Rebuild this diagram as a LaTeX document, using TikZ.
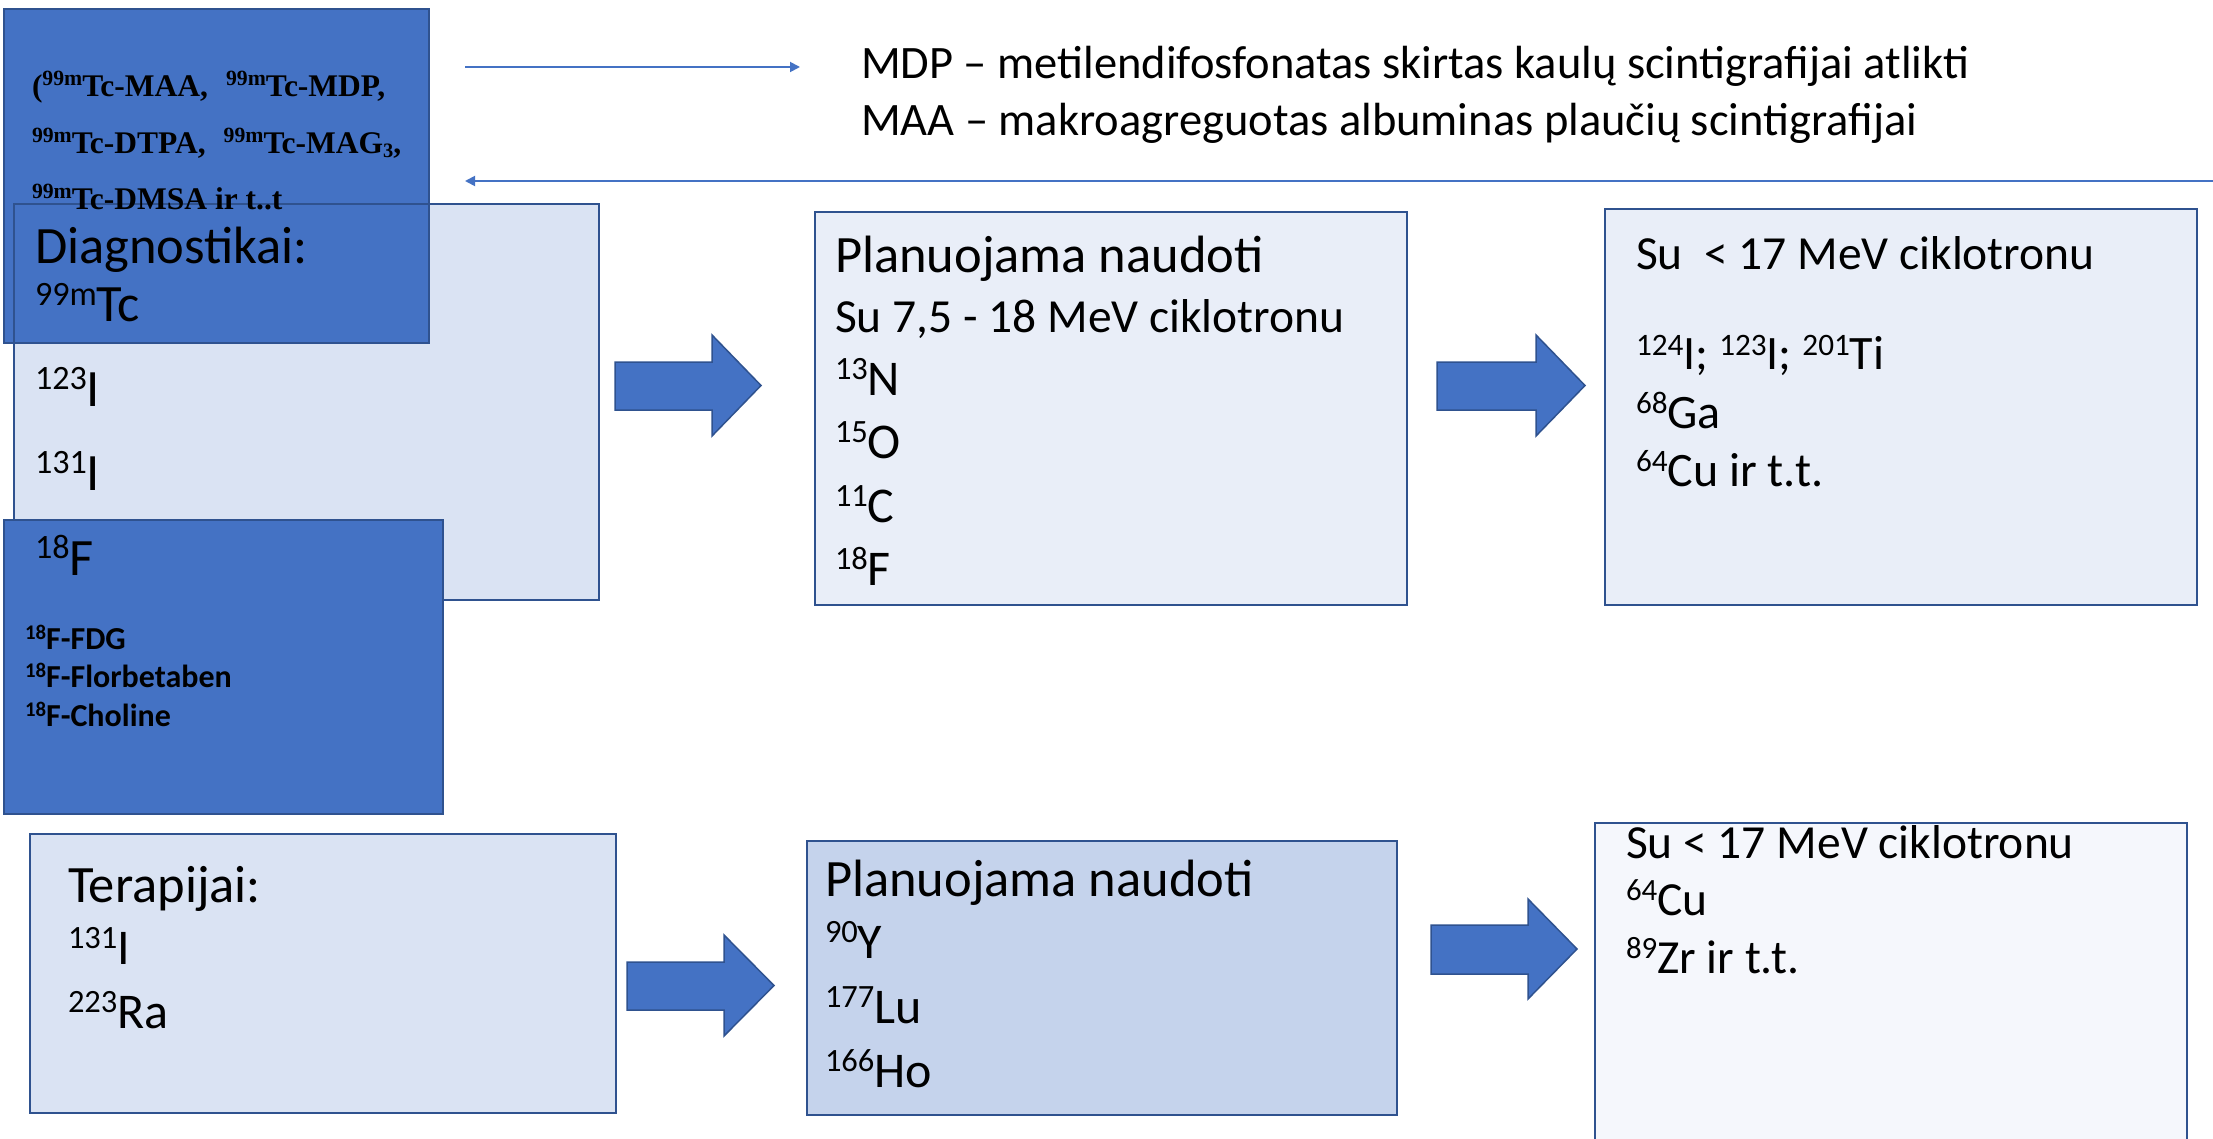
\documentclass[tikz,border=0pt]{standalone}
\usepackage{fontspec}
\setmainfont{Carlito}
\newfontfamily\tnr{Liberation Serif}
\usetikzlibrary{arrows.meta}
\definecolor{dk}{HTML}{4472C4}
\definecolor{bd}{HTML}{2F528F}
\definecolor{lbA}{HTML}{DAE3F3}
\definecolor{lbB}{HTML}{E9EEF8}
\definecolor{lbC}{HTML}{C5D3EC}
\definecolor{lbD}{HTML}{F5F7FC}
\newcommand\sps[1]{\raisebox{0.31em}{\scalebox{0.65}{#1}}}
\newcommand\spt[1]{\raisebox{0.36em}{\scalebox{0.69}{#1}}}
\newcommand\sbs[1]{\raisebox{-0.12em}{\scalebox{0.65}{#1}}}
\newcommand\fsz[1]{\fontsize{#1pt}{#1pt}\selectfont}
\begin{document}
\begin{tikzpicture}[x=1pt,y=-1pt,
 box/.style={rectangle, anchor=north west, inner sep=0pt, outer sep=0pt, line width=2pt},
 txt/.style={anchor=base west, inner sep=0pt, outer sep=0pt, text=black},
 blk/.style={fill=dk, draw=bd, line width=1.5pt},
 thinarrow/.style={draw=dk, line width=1.8pt, -{Triangle[length=10pt,width=10pt]}},
 big/.style={txt, font=\fsz{52.5}},
 mid/.style={txt, font=\fsz{50}},
 sml/.style={txt, font=\fsz{47.5}},
 tcs/.style={txt, font=\tnr\bfseries\fsz{31.5}},
 fls/.style={txt, font=\bfseries\fsz{32}},
]
\useasboundingbox (0,0) rectangle (2213,1139);
\fill[white] (0,0) rectangle (2213,1139);
\clip (0,0) rectangle (2213,1139);

% Diagnostikai cluster
\node[box, fill=lbA, minimum width=585pt, minimum height=396pt] (diag) at (14,204) {};
\node[box, fill=dk, draw=bd, minimum width=425pt, minimum height=334pt] (tcbox) at (4,9) {};
\draw[bd, line width=2pt] (diag.north west) rectangle (diag.south east);
\node[box, fill=dk, draw=bd, minimum width=439pt, minimum height=294pt] (fbox) at (4,520) {};

% other boxes
\node[box, fill=lbB, draw=bd, minimum width=592pt, minimum height=393pt] (plan1) at (815,212) {};
\node[box, fill=lbB, draw=bd, minimum width=592pt, minimum height=396pt] (cyc1) at (1605,209) {};
\node[box, fill=lbA, draw=bd, minimum width=586pt, minimum height=279pt] (ter) at (30,834) {};
\node[box, fill=lbC, draw=bd, minimum width=590pt, minimum height=274pt] (plan2) at (807,841) {};
\node[box, fill=lbD, draw=bd, minimum width=592pt, minimum height=360pt] (cyc2) at (1595,823) {};

% block arrows
\filldraw[blk] (615,362) -- (712,362) -- (712,335) -- (761,385.5) -- (712,436) -- (712,410) -- (615,410) -- cycle;
\filldraw[blk] (1437,362) -- (1536,362) -- (1536,335) -- (1585,385.5) -- (1536,436) -- (1536,410) -- (1437,410) -- cycle;
\filldraw[blk] (627,962) -- (724,962) -- (724,935) -- (774,985.5) -- (724,1036) -- (724,1010) -- (627,1010) -- cycle;
\filldraw[blk] (1431,925) -- (1528,925) -- (1528,899) -- (1577,949) -- (1528,999) -- (1528,974) -- (1431,974) -- cycle;

% thin arrows
\coordinate (a1s) at (465,67);
\coordinate (a1e) at (800,67);
\coordinate (a2s) at (2216,181);
\coordinate (a2e) at (465,181);
\draw[thinarrow] (a1s) -- (a1e);
\draw[thinarrow] (a2s) -- (a2e);

% legend text
\node[txt, font=\fsz{46.5}] (mdp) at (861,79) {MDP – metilendifosfonatas skirtas kaulų scintigrafijai atlikti};
\node[txt, font=\fsz{46.5}] (maa) at (861,136) {MAA – makroagreguotas albuminas plaučių scintigrafijai};

% Tc box text
\node[tcs] (tc1) at (32,97) {(\spt{99m}Tc-MAA,\hspace{18pt}\spt{99m}Tc-MDP,};
\node[tcs] (tc2) at (32,154) {\spt{99m}Tc-DTPA,\hspace{18pt}\spt{99m}Tc-MAG\sbs{3},};
\node[tcs] (tc3) at (32,210) {\spt{99m}Tc-DMSA ir t..t};

% Diagnostikai text
\node[big] (d0) at (35,264) {Diagnostikai:};
\node[big] (d1) at (35,322) {\sps{99m}Tc};
\node[big] (d2) at (35,406) {\sps{123}I};
\node[big] (d3) at (35,490) {\sps{131}I};
\node[big] (d4) at (35,575) {\sps{18}F};
\node[fls] (f1) at (25,649) {\sps{18}F-FDG};
\node[fls] (f2) at (25,687) {\sps{18}F-Florbetaben};
\node[fls] (f3) at (25,726) {\sps{18}F-Choline};

% Plan 1 text
\node[big] (p0) at (835,273) {Planuojama naudoti};
\node[sml] (p1) at (835,333) {Su 7,5 - 18 MeV ciklotronu};
\node[mid] (p2) at (835,395) {\sps{13}N};
\node[mid] (p3) at (835,458) {\sps{15}O};
\node[mid] (p4) at (835,522) {\sps{11}C};
\node[mid] (p5) at (835,585) {\sps{18}F};

% Cyc 1 text
\node[sml] (c0) at (1636,270) {Su~~< 17 MeV ciklotronu};
\node[txt, font=\fsz{48}] (c1) at (1636,370) {\sps{124}I; \sps{123}I; \sps{201}Ti};
\node[txt, font=\fsz{48}] (c2) at (1636,428) {\sps{68}Ga};
\node[txt, font=\fsz{48}] (c3) at (1636,486) {\sps{64}Cu ir t.t.};

% Terapijai text
\node[big] (t0) at (68,902) {Terapijai:};
\node[mid] (t1) at (68,964) {\sps{131}I};
\node[mid] (t2) at (68,1028) {\sps{223}Ra};

% Plan 2 text
\node[big] (q0) at (825,896) {Planuojama naudoti};
\node[mid] (q1) at (825,958) {\sps{90}Y};
\node[mid] (q2) at (825,1023) {\sps{177}Lu};
\node[mid] (q3) at (825,1087) {\sps{166}Ho};

% Cyc 2 text
\node[sml] (e0) at (1626,858) {Su < 17 MeV ciklotronu};
\node[sml] (e1) at (1626,915) {\sps{64}Cu};
\node[sml] (e2) at (1626,973) {\sps{89}Zr ir t.t.};
\end{tikzpicture}
\end{document}
